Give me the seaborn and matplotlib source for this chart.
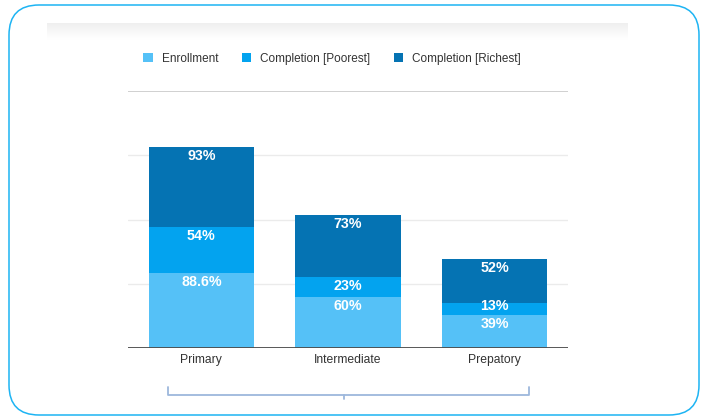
import numpy as np
import pandas as pd
import seaborn as sns
import matplotlib.pyplot as plt
from matplotlib.patches import FancyBboxPatch, Patch
from matplotlib.lines import Line2D

# segment heights as drawn (axis 0-100), plus the printed labels
levels = ["Primary", "Intermediate", "Prepatory"]
enroll_h = [29.2, 19.8, 12.8]
poorest_h = [17.9, 7.8, 4.7]
richest_h = [31.1, 24.1, 17.1]
enroll_lbl = ["88.6%", "60%", "39%"]
poorest_lbl = ["54%", "23%", "13%"]
richest_lbl = ["93%", "73%", "52%"]
series = ["Enrollment", "Completion [Poorest]", "Completion [Richest]"]
colors = ["#55c1f7", "#03a3ef", "#0573b3"]

sns.set_style("white")
plt.rcParams['font.family'] = ['Liberation Sans', 'DejaVu Sans']

df = pd.DataFrame({"level": levels, "enroll": enroll_h,
                   "poorest": poorest_h, "richest": richest_h})
df["top1"] = df["enroll"]
df["top2"] = df["enroll"] + df["poorest"]
df["top3"] = df["top2"] + df["richest"]

fig = plt.figure(figsize=(7.03, 4.16), dpi=100)
ax = fig.add_axes([128 / 703, 68 / 416, 440 / 703, 257 / 416])

# stacked look: draw cumulative bars from tallest to shortest
for col, c in zip(["top3", "top2", "top1"], colors[::-1]):
    sns.barplot(data=df, x="level", y=col, color=c, width=0.72,
                saturation=1, linewidth=0, ax=ax, zorder=3)

labels = [enroll_lbl, poorest_lbl, richest_lbl]
for col, lbls in zip(["top1", "top2", "top3"], labels):
    for i, (y, t) in enumerate(zip(df[col], lbls)):
        # thin segment label sits higher, as in the original
        off = -2.2 if (col == "top2" and i == 2) else -6.6
        ax.annotate(t, (i, y), xytext=(0, off), textcoords="offset points",
                    ha="center", va="center", color="white", fontsize=10.3,
                    fontweight="bold", zorder=5)

ax.set_ylim(0, 100)
ax.set_xlim(-0.5, 2.5)
for g in [25, 50, 75]:
    ax.axhline(g, color="#ebebeb", lw=1, zorder=1)
ax.axhline(100, color="#c8c8c8", lw=1.2, zorder=1)
ax.axhline(0, color="#4a4a4a", lw=1.3, zorder=4)
sns.despine(ax=ax, left=True, bottom=True)
ax.set_yticks([])
ax.set_xlabel("")
ax.set_ylabel("")
ax.tick_params(axis="x", length=0, pad=4.5, labelsize=8.7, labelcolor="#333333")

handles = [Patch(facecolor=c, edgecolor="none") for c in colors]
fig.legend(handles, series, loc="center", bbox_to_anchor=(332 / 703, 1 - 59 / 416),
           ncol=3, frameon=False, fontsize=8.5, handlelength=0.8, handleheight=0.8,
           handletextpad=0.75, columnspacing=2.0, labelcolor="#333333")

# faded header band of the screenshot
band = fig.add_axes([47 / 703, 1 - 40 / 416, 581 / 703, 17 / 416])
grad = np.linspace(0.935, 1.0, 50).reshape(-1, 1)
band.imshow(grad, cmap="gray", vmin=0, vmax=1, aspect="auto")
band.axis("off")

# bracket under the categories
br = dict(color="#9db8dc", lw=1.3, transform=fig.transFigure)
fx = lambda p: p / 703
fy = lambda p: 1 - p / 416
fig.add_artist(Line2D([fx(168), fx(168), fx(529), fx(529)],
                      [fy(387), fy(395), fy(395), fy(387)], **br))
fig.add_artist(Line2D([fx(344), fx(344)], [fy(395), fy(399)], **br))

# rounded frame
frame = FancyBboxPatch((0.09, 0.01), 6.90, 4.10,
                       boxstyle="round,pad=0,rounding_size=0.3",
                       transform=fig.dpi_scale_trans, facecolor="none",
                       edgecolor="#1db4f3", lw=1.1)
fig.add_artist(frame)

fig.savefig("out.png", dpi=100)
